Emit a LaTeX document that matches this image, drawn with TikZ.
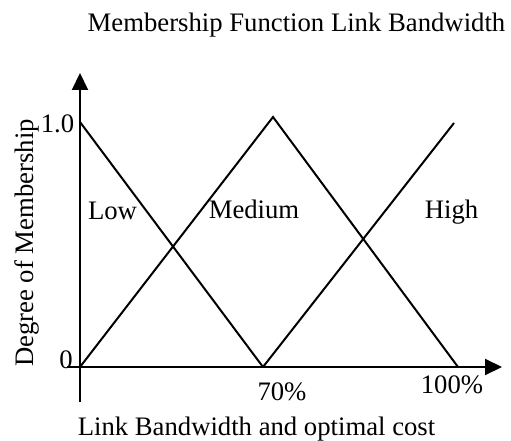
\documentclass[tikz,border=0pt]{standalone}
\usepackage{fontspec}
\setmainfont{Liberation Serif}
\usetikzlibrary{arrows.meta}
\begin{document}
\begin{tikzpicture}[x=1pt,y=-1pt,
  curve/.style={line width=2pt, line join=miter},
  axis/.style={line width=2pt, -{Triangle[length=17pt,width=16pt]}},
  lbl/.style={inner sep=0pt, anchor=base, font=\fontsize{26.7pt}{32pt}\selectfont}]
  \useasboundingbox (0,0) rectangle (511,441);

  % axis end points and curve corners
  \coordinate (ybot) at (80,402);
  \coordinate (ytop) at (80,73);
  \coordinate (xleft) at (67,367);
  \coordinate (xright) at (502,367);
  \coordinate (O) at (80,367);
  \coordinate (lowtop) at (80,122);
  \coordinate (p70) at (263,367);
  \coordinate (medpeak) at (273,117);
  \coordinate (p100) at (458,367);
  \coordinate (hightop) at (454,123);

  % axes
  \draw[axis] (ybot) -- (ytop);
  \draw[axis] (xleft) -- (xright);

  % membership functions
  \draw[curve] (lowtop) -- (p70);
  \draw[curve] (O) -- (medpeak) -- (p100);
  \draw[curve] (p70) -- (hightop);

  % labels
  \node[lbl] (title) at (296.5,32) {Membership Function Link Bandwidth};
  \node[lbl] (xlab) at (256.5,435) {Link Bandwidth and optimal cost};
  \node[lbl, rotate=90] (ylab) at (33,243) {Degree of Membership};
  \node[lbl] (t70) at (282,400) {70\%};
  \node[lbl] (t100) at (452,393) {100\%};
  \node[lbl] (t0) at (66,368) {0};
  \node[lbl] (t1) at (57.5,132) {1.0};
  \node[lbl] (low) at (112.5,219) {Low};
  \node[lbl] (med) at (254,218) {Medium};
  \node[lbl] (high) at (451.5,218) {High};
\end{tikzpicture}
\end{document}
